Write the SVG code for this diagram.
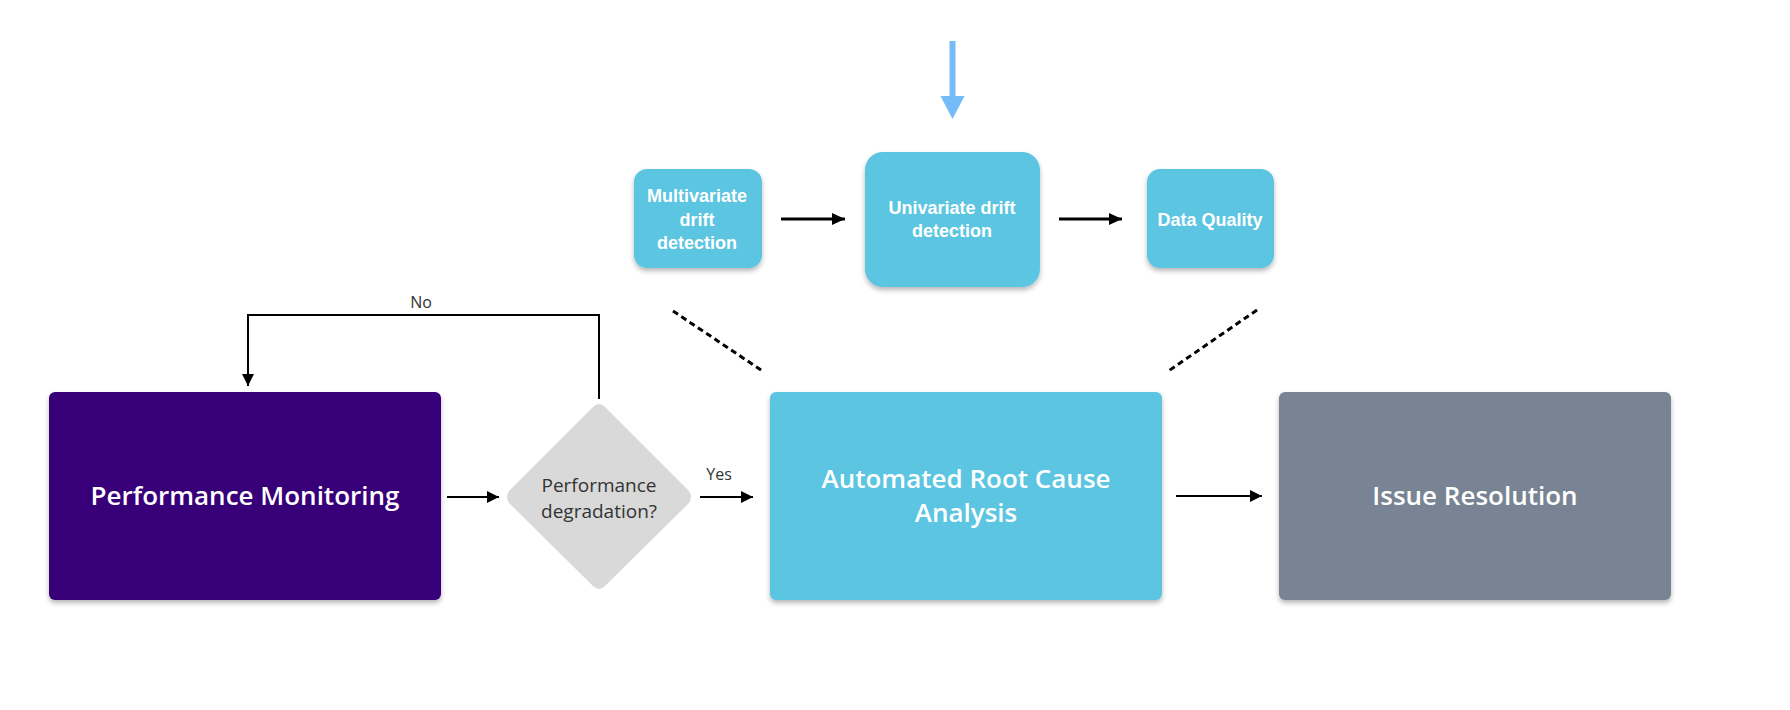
<svg xmlns="http://www.w3.org/2000/svg" width="1790" height="710" viewBox="0 0 1790 710">
<defs>
<style>
.box-top{fill:#5BC5E1;filter:url(#sh);}
.tt{font-family:"Liberation Sans",Arial,sans-serif;font-weight:700;font-size:18px;fill:#ffffff;text-anchor:middle;}
.bt{font-family:"Open Sans","Noto Sans",sans-serif;font-weight:600;font-size:26px;fill:#ffffff;text-anchor:middle;}
.lt{font-family:"Open Sans","Noto Sans",sans-serif;font-size:16px;fill:#333333;text-anchor:middle;}
.dt{font-family:"Open Sans","Noto Sans",sans-serif;font-size:19px;fill:#333333;text-anchor:middle;}
.ln{stroke:#000;fill:none;}
.dash{stroke:#000;stroke-width:3;stroke-dasharray:6 4;fill:none;}
</style>
<filter id="sh" x="-10%" y="-10%" width="120%" height="130%">
<feDropShadow dx="0" dy="3" stdDeviation="2.5" flood-color="#000" flood-opacity="0.28"/>
</filter>
<marker id="ah" markerUnits="userSpaceOnUse" markerWidth="14" markerHeight="14" refX="13" refY="7" orient="auto">
<path d="M0,1 L13,7 L0,13 Z" fill="#000"/>
</marker>
<marker id="ahs" markerUnits="userSpaceOnUse" markerWidth="14" markerHeight="14" refX="12" refY="6" orient="auto">
<path d="M0,0 L12,6 L0,12 Z" fill="#000"/>
</marker>
</defs>
<rect width="1790" height="710" fill="#ffffff"/>

<g id="connectors">
<line x1="952.5" y1="41" x2="952.5" y2="98" stroke="#74BBF7" stroke-width="6"/>
<path d="M940.5,96 L964.5,96 L952.5,119 Z" fill="#74BBF7"/>
<line class="ln" x1="781" y1="219" x2="845" y2="219" stroke-width="3" marker-end="url(#ah)"/>
<line class="ln" x1="1059" y1="219" x2="1122" y2="219" stroke-width="3" marker-end="url(#ah)"/>
<line class="dash" x1="673" y1="311" x2="764" y2="372"/>
<line class="dash" x1="1257" y1="310" x2="1167" y2="372"/>
<path class="ln" d="M599,399 L599,315 L248,315 L248,386" stroke-width="2" marker-end="url(#ahs)"/>
<text class="lt" x="421" y="308">No</text>
<line class="ln" x1="447" y1="497" x2="499" y2="497" stroke-width="2" marker-end="url(#ahs)"/>
<line class="ln" x1="700" y1="497" x2="753" y2="497" stroke-width="2" marker-end="url(#ahs)"/>
<text class="lt" x="719" y="480">Yes</text>
<line class="ln" x1="1176" y1="496" x2="1262" y2="496" stroke-width="2" marker-end="url(#ahs)"/>
</g>

<g id="multivariate">
<rect class="box-top" x="634" y="169" width="128" height="99" rx="13"/>
<text class="tt" x="697" y="202">Multivariate</text>
<text class="tt" x="697" y="226">drift</text>
<text class="tt" x="697" y="249">detection</text>
</g>

<g id="univariate">
<rect class="box-top" x="865" y="152" width="175" height="135" rx="18"/>
<text class="tt" x="952" y="214">Univariate drift</text>
<text class="tt" x="952" y="237">detection</text>
</g>

<g id="dataquality">
<rect class="box-top" x="1147" y="169" width="127" height="99" rx="13"/>
<text class="tt" x="1210" y="226">Data Quality</text>
</g>

<g id="perfmon">
<rect x="49" y="392" width="392" height="208" rx="6" fill="#380678" filter="url(#sh)"/>
<text class="bt" x="245" y="505">Performance Monitoring</text>
</g>

<g id="decision">
<path d="M593,407 Q599,401 605,407 L688,490 Q694,497 688,504 L605,586 Q599,592 593,586 L510,504 Q504,497 510,490 Z" fill="#D9D9D9"/>
<text class="dt" x="599" y="492">Performance</text>
<text class="dt" x="599" y="518">degradation?</text>
</g>

<g id="rca">
<rect x="770" y="392" width="392" height="208" rx="6" fill="#5BC5E1" filter="url(#sh)"/>
<text class="bt" x="966" y="488">Automated Root Cause</text>
<text class="bt" x="966" y="522">Analysis</text>
</g>

<g id="resolution">
<rect x="1279" y="392" width="392" height="208" rx="6" fill="#788493" filter="url(#sh)"/>
<text class="bt" x="1475" y="505">Issue Resolution</text>
</g>
</svg>
